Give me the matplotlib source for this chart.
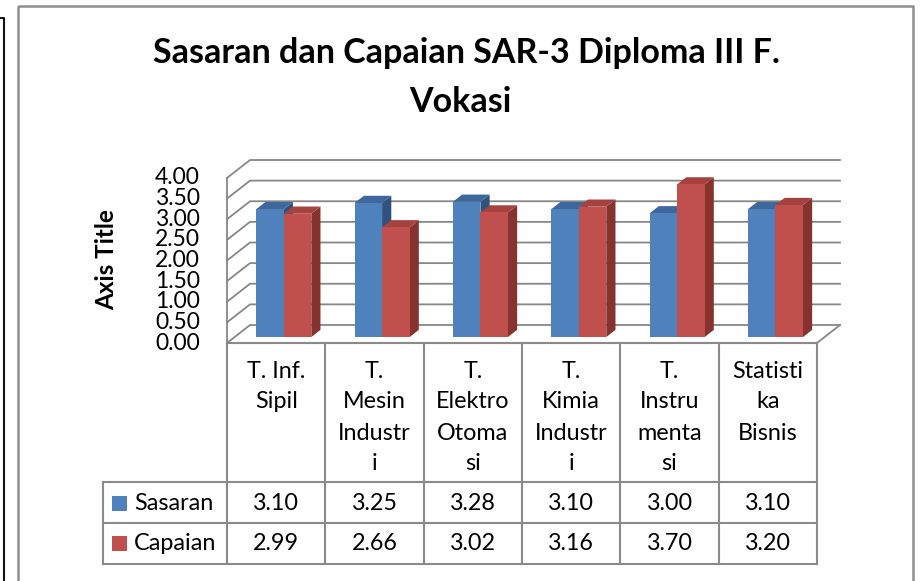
import matplotlib
matplotlib.use("Agg")
import matplotlib.pyplot as plt
from matplotlib.patches import Polygon, Rectangle
from matplotlib.lines import Line2D
from matplotlib.transforms import offset_copy

plt.rcParams['font.family'] = ['Lato', 'DejaVu Sans']

# ---------------- data ----------------
categories = ["T. Inf.\nSipil", "T.\nMesin\nIndustr\ni", "T.\nElektro\nOtoma\nsi",
              "T.\nKimia\nIndustr\ni", "T.\nInstru\nmenta\nsi", "Statisti\nka\nBisnis"]
series_names = ["Sasaran", "Capaian"]
sasaran = [3.10, 3.25, 3.28, 3.10, 3.00, 3.10]
capaian = [2.99, 2.66, 3.02, 3.16, 3.70, 3.20]
y_ticks = [0.0, 0.5, 1.0, 1.5, 2.0, 2.5, 3.0, 3.5, 4.0]
title_lines = ["Sasaran dan Capaian SAR-3 Diploma III F.", "Vokasi"]
axis_title = "Axis Title"

# ---------------- styling ----------------
front_cols = ["#4F81BD", "#C0504D"]
top_cols = ["#3E689B", "#A5423F"]
side_cols = ["#30527C", "#863330"]
grid_col = "#878787"

W, H = 921, 581
fig = plt.figure(figsize=(W / 100, H / 100), dpi=100)

# overlay axes in pixel units for frame / table layout
ov = fig.add_axes([0, 0, 1, 1])
ov.set_xlim(0, W)
ov.set_ylim(H, 0)
ov.axis('off')

# geometry of the plot box (front face)
X0, X1 = 227, 817
YB, YT = 343, 178
ncat = len(categories)
colw = (X1 - X0) / ncat

ax = fig.add_axes([X0 / W, 1 - YB / H, (X1 - X0) / W, (YB - YT) / H])
ax.set_xlim(0, ncat)
ax.set_ylim(0, 4)
ax.axis('off')
ax.patch.set_alpha(0)

# depth offsets in data units
ddx = 23 / colw
ddy = 18 / ((YB - YT) / 4)

# gridlines (left wall diagonal + back wall)
for v in y_ticks:
    ax.add_line(Line2D([0, ddx, ncat + ddx], [v, v + ddy, v + ddy],
                       color=grid_col, lw=1.3, clip_on=False, zorder=1))
# value axis line
ax.add_line(Line2D([0, 0], [0, 4], color=grid_col, lw=1.3, clip_on=False, zorder=1))
# floor right edge
ax.add_line(Line2D([ncat, ncat + ddx], [0, ddy], color=grid_col, lw=1.3,
                   clip_on=False, zorder=1))

# bars
bw = 0.28
d0, d1 = 0.33, 0.73
for i in range(ncat):
    for s, vals in enumerate([sasaran, capaian]):
        v = vals[i]
        xl = i + 0.5 - bw + s * bw
        xr = xl + bw
        fx0, fx1 = xl + d0 * ddx, xr + d0 * ddx
        fy0 = d0 * ddy
        z = 3 + s
        # side
        ax.add_patch(Polygon([(xr + d0 * ddx, fy0), (xr + d1 * ddx, d1 * ddy),
                              (xr + d1 * ddx, v + d1 * ddy), (xr + d0 * ddx, v + fy0)],
                             closed=True, facecolor=side_cols[s], edgecolor='none',
                             clip_on=False, zorder=z))
        # top
        ax.add_patch(Polygon([(fx0, v + fy0), (fx1, v + fy0),
                              (xr + d1 * ddx, v + d1 * ddy), (xl + d1 * ddx, v + d1 * ddy)],
                             closed=True, facecolor=top_cols[s], edgecolor='none',
                             clip_on=False, zorder=z))
        # front
        ax.add_patch(Rectangle((fx0, fy0), bw, v, facecolor=front_cols[s],
                               edgecolor='none', clip_on=False, zorder=z))

# tick labels
tick_tr = offset_copy(ax.transData, fig=fig, x=-27, y=0, units='dots')
for v in y_ticks:
    ax.text(0, v, f"{v:.2f}", transform=tick_tr, ha='right', va='center',
            fontsize=16.5, color='black')

# axis title
ov.text(107, 260, axis_title, rotation=90, ha='center', va='center',
        fontsize=17.5, fontweight='bold')

# chart title
ov.text(466, 63, title_lines[0], ha='center', va='baseline', fontsize=24.5,
        fontweight='bold')
ov.text(460, 112, title_lines[1], ha='center', va='baseline', fontsize=24.5,
        fontweight='bold')

# ---------------- data table ----------------
tcol = "#8A8A8A"
tlw = 1.5
LX = 103
R1, R2, R3 = 482, 523, 564
# horizontal lines
ov.add_line(Line2D([X0, X1], [YB, YB], color=tcol, lw=tlw))
for yy in (R1, R2, R3):
    ov.add_line(Line2D([LX, X1], [yy, yy], color=tcol, lw=tlw))
# vertical lines
for i in range(ncat + 1):
    xx = X0 + i * colw
    ov.add_line(Line2D([xx, xx], [YB, R3], color=tcol, lw=tlw))
ov.add_line(Line2D([LX, LX], [R1, R3], color=tcol, lw=tlw))

fs_tab = 16.8
for i, cat in enumerate(categories):
    cx = X0 + (i + 0.5) * colw
    for k, line in enumerate(cat.split("\n")):
        ov.text(cx, 371 + 31 * k, line, ha='center', va='center', fontsize=fs_tab)
    ov.text(cx, 503, f"{sasaran[i]:.2f}", ha='center', va='center', fontsize=fs_tab)
    ov.text(cx, 543, f"{capaian[i]:.2f}", ha='center', va='center', fontsize=fs_tab)

for s, (name, yy) in enumerate(zip(series_names, (503, 543))):
    ov.add_patch(Rectangle((112, yy - 7.5), 15, 15, facecolor=front_cols[s],
                           edgecolor='none'))
    ov.text(134, yy, name, ha='left', va='center', fontsize=fs_tab)

# ---------------- frames ----------------
ov.add_patch(Rectangle((18, 6), 895, 600, facecolor='none', edgecolor='#8F8F8F',
                       lw=1.8, clip_on=False))
ov.add_line(Line2D([0, 3.5, 3.5], [18, 18, 590], color='#111111', lw=1.5))

fig.savefig("out.png", dpi=100)
